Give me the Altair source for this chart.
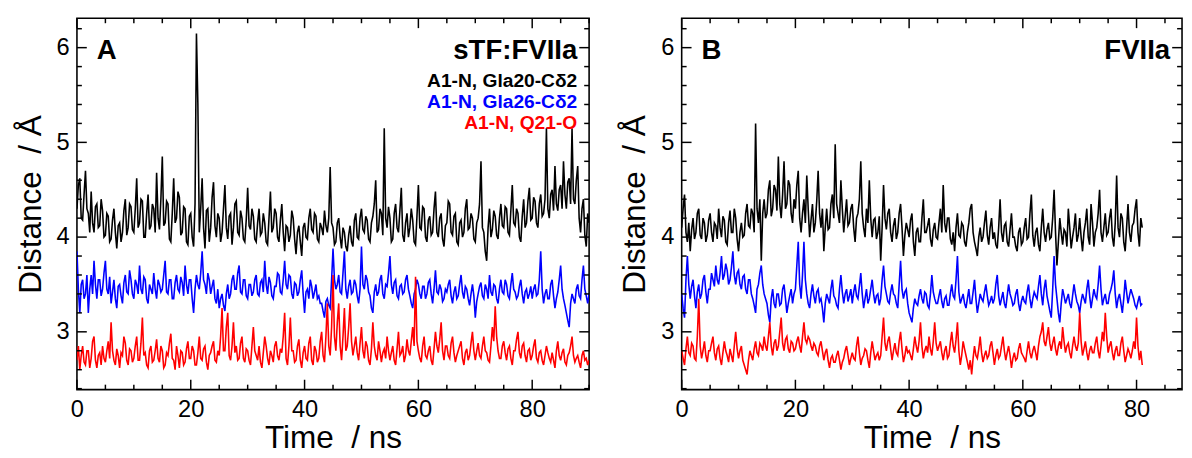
import pandas as pd
import altair as alt

STEP_NS = 0.25

# Panel A : sTF:FVIIa  (0 - 90 ns), one row = 5 ns
a_gla20 = [
    4.30, 4.55, 4.62, 4.20, 4.18, 4.45, 4.70, 4.30, 4.25, 4.05, 4.48, 4.15, 4.05, 4.32, 4.35, 4.10, 4.12, 4.40, 4.28, 4.00,
    4.02, 4.25, 4.22, 3.95, 3.98, 4.18, 4.30, 4.05, 3.88, 4.12, 4.15, 3.95, 4.05, 4.28, 4.40, 4.02, 4.10, 4.35, 4.32, 4.08,
    4.05, 4.30, 4.62, 4.10, 4.15, 4.40, 4.38, 4.00, 4.00, 4.25, 4.45, 4.08, 4.12, 4.35, 4.30, 4.05, 4.68, 4.20, 4.08, 4.40,
    4.85, 4.12, 4.15, 4.38, 4.35, 3.98, 3.95, 4.25, 4.62, 4.15, 4.20, 4.48, 4.42, 4.02, 4.05, 4.32, 4.30, 3.95, 3.92, 4.22,
    4.25, 4.00, 3.90, 4.35, 6.15, 5.40, 4.05, 4.30, 4.62, 4.10, 3.88, 4.28, 4.30, 3.95, 4.10, 4.42, 4.58, 4.12, 4.00, 4.25,
    4.20, 3.95, 4.05, 4.30, 4.55, 4.10, 3.98, 4.22, 4.25, 3.92, 4.10, 4.35, 4.38, 4.05, 4.02, 4.28, 4.20, 3.98, 3.95, 4.18,
    4.52, 4.12, 4.08, 4.30, 4.22, 3.98, 3.95, 4.15, 4.30, 4.02, 4.05, 4.25, 4.15, 3.95, 3.92, 4.20, 4.48, 4.05, 4.10, 4.30,
    4.25, 4.00, 3.95, 4.18, 4.35, 4.05, 3.85, 4.12, 4.10, 3.95, 4.02, 4.28, 4.20, 3.98, 3.82, 4.05, 4.12, 3.95, 3.80, 4.10,
    4.15, 4.00, 3.98, 4.20, 4.30, 4.08, 4.05, 4.25, 4.22, 3.98, 3.95, 4.15, 4.10, 4.02, 4.28, 4.12, 4.05, 4.20, 4.74, 4.15,
    4.10, 3.92, 3.95, 4.15, 4.20, 4.00, 3.88, 4.10, 4.05, 3.90, 3.85, 4.02, 4.12, 3.95, 3.90, 4.18, 4.25, 4.00, 3.98, 4.20,
    4.30, 4.08, 4.05, 4.22, 4.18, 3.98, 3.95, 4.15, 4.22, 4.35, 4.60, 4.05, 4.08, 4.30, 4.25, 4.02, 5.15, 4.20, 4.10, 4.32,
    4.20, 3.95, 3.98, 4.25, 4.35, 4.10, 4.05, 4.28, 4.52, 4.02, 3.95, 4.15, 4.25, 4.00, 4.10, 4.30, 4.18, 3.95, 3.92, 4.22,
    4.55, 4.10, 4.08, 4.32, 4.30, 4.00, 3.95, 4.18, 4.22, 4.02, 4.05, 4.30, 4.48, 4.05, 4.00, 4.20, 4.25, 3.98, 3.90, 4.12,
    4.15, 4.38, 4.35, 4.05, 4.02, 4.22, 4.25, 3.95, 3.92, 4.15, 4.18, 4.00, 4.05, 4.30, 4.40, 4.08, 4.10, 4.25, 4.20, 3.98,
    3.95, 4.15, 4.20, 4.35, 4.80, 4.10, 4.05, 3.85, 3.75, 4.10, 4.30, 4.00, 4.08, 4.28, 4.22, 4.02, 3.98, 4.20, 4.35, 4.12,
    4.10, 4.32, 4.30, 4.05, 4.02, 4.28, 4.55, 4.15, 4.12, 4.30, 4.25, 4.00, 3.95, 4.22, 4.40, 4.10, 4.15, 4.38, 4.52, 4.18,
    4.20, 4.42, 4.38, 4.15, 4.10, 4.35, 4.45, 4.22, 4.25, 4.40, 5.15, 4.30, 4.20, 4.45, 4.50, 4.28, 4.75, 4.35, 4.28, 4.50,
    4.55, 4.30, 4.80, 4.45, 4.30, 4.58, 4.62, 4.35, 5.15, 4.40, 4.35, 4.60, 4.75, 4.20, 4.05, 4.30, 4.40, 4.02, 3.90, 4.25,
    4.15,
]
a_gla26 = [
    3.85, 3.45, 3.20, 3.50, 3.55, 3.35, 3.40, 3.60, 3.20, 3.45, 3.60, 3.40, 3.75, 3.50, 3.35, 3.55, 3.55, 3.38, 3.45, 3.62,
    3.75, 3.45, 3.40, 3.58, 3.30, 3.42, 3.55, 3.35, 3.25, 3.48, 3.50, 3.38, 3.30, 3.52, 3.60, 3.42, 3.40, 3.65, 3.55, 3.40,
    3.35, 3.55, 3.50, 3.40, 3.70, 3.45, 3.40, 3.58, 3.55, 3.35, 3.30, 3.50, 3.45, 3.40, 3.62, 3.45, 3.35, 3.55, 3.50, 3.42,
    3.45, 3.60, 3.75, 3.42, 3.40, 3.55, 3.55, 3.35, 3.35, 3.52, 3.60, 3.45, 3.42, 3.58, 3.52, 3.38, 3.70, 3.50, 3.40, 3.55,
    3.55, 3.35, 3.20, 3.45, 3.60, 3.50, 3.45, 3.62, 3.85, 3.55, 3.50, 3.40, 3.62, 3.55, 3.40, 3.48, 3.55, 3.35, 3.30, 3.45,
    3.25, 3.35, 3.40, 3.28, 3.22, 3.40, 3.50, 3.35, 3.40, 3.55, 3.60, 3.45, 3.45, 3.62, 3.70, 3.42, 3.40, 3.55, 3.55, 3.38,
    3.35, 3.50, 3.50, 3.38, 3.42, 3.55, 3.60, 3.40, 3.38, 3.52, 3.55, 3.42, 3.75, 3.50, 3.40, 3.58, 3.52, 3.38, 3.35, 3.48,
    3.48, 3.62, 3.60, 3.42, 3.40, 3.55, 3.75, 3.50, 3.45, 3.60, 3.58, 3.40, 3.35, 3.52, 3.50, 3.38, 3.42, 3.55, 3.65, 3.40,
    3.20, 3.42, 3.45, 3.35, 3.55, 3.48, 3.35, 3.42, 3.50, 3.35, 3.38, 3.30, 3.30, 3.22, 3.15, 3.32, 3.35, 3.28, 3.25, 3.55,
    3.88, 3.55, 3.45, 3.50, 3.60, 3.42, 3.40, 3.62, 3.85, 3.45, 3.35, 3.48, 3.55, 3.40, 3.42, 3.55, 3.50, 3.38, 3.30, 3.45,
    3.90, 3.50, 3.45, 3.60, 3.55, 3.42, 3.38, 3.25, 3.20, 3.42, 3.50, 3.38, 3.42, 3.55, 3.60, 3.40, 3.35, 3.50, 3.48, 3.62,
    3.80, 3.50, 3.40, 3.52, 3.55, 3.38, 3.35, 3.48, 3.50, 3.40, 3.42, 3.55, 3.60, 3.45, 3.38, 3.30, 3.25, 3.40, 3.45, 3.55,
    3.50, 3.40, 3.35, 3.48, 3.48, 3.35, 3.40, 3.52, 3.55, 3.40, 3.30, 3.45, 3.65, 3.42, 3.40, 3.50, 3.45, 3.32, 3.35, 3.45,
    3.42, 3.50, 3.55, 3.38, 3.30, 3.42, 3.48, 3.35, 3.38, 3.50, 3.60, 3.42, 3.35, 3.48, 3.45, 3.35, 3.28, 3.40, 3.50, 3.38,
    3.15, 3.32, 3.40, 3.48, 3.52, 3.38, 3.35, 3.50, 3.45, 3.35, 3.60, 3.42, 3.38, 3.50, 3.48, 3.35, 3.30, 3.45, 3.55, 3.42,
    3.40, 3.55, 3.50, 3.38, 3.35, 3.50, 3.62, 3.45, 3.42, 3.35, 3.38, 3.48, 3.55, 3.40, 3.30, 3.42, 3.45, 3.35, 3.40, 3.48,
    3.35, 3.45, 3.50, 3.38, 3.40, 3.55, 3.85, 3.45, 3.30, 3.40, 3.45, 3.35, 3.35, 3.50, 3.55, 3.38, 3.25, 3.35, 3.42, 3.55,
    3.70, 3.45, 3.35, 3.28, 3.20, 3.12, 3.05, 3.30, 3.40, 3.35, 3.30, 3.45, 3.50, 3.38, 3.35, 3.55, 3.70, 3.45, 3.38, 3.30,
    3.40,
]
a_q21 = [
    2.70, 2.85, 2.60, 2.75, 2.85, 2.68, 2.65, 2.80, 2.80, 2.62, 2.72, 2.90, 2.95, 2.70, 2.62, 2.75, 2.78, 2.65, 2.85, 2.72,
    2.68, 2.80, 2.90, 2.72, 3.10, 2.80, 2.70, 2.65, 2.82, 2.75, 2.62, 2.78, 2.75, 2.95, 2.88, 2.70, 2.65, 2.82, 2.80, 2.68,
    2.72, 2.85, 2.95, 2.70, 2.70, 2.88, 3.15, 2.75, 2.78, 2.65, 2.62, 2.80, 2.85, 2.68, 2.70, 2.80, 2.92, 2.72, 2.68, 2.85,
    2.80, 2.62, 2.65, 2.78, 2.75, 2.88, 2.98, 2.72, 2.70, 2.60, 2.85, 2.75, 2.62, 2.80, 2.78, 2.65, 2.68, 2.82, 2.90, 2.72,
    2.72, 2.85, 2.80, 2.65, 2.65, 2.78, 2.95, 2.72, 2.70, 2.82, 2.85, 2.68, 2.60, 2.75, 2.78, 2.85, 2.90, 2.70, 2.68, 2.80,
    2.75, 2.95, 3.25, 2.80, 2.80, 3.05, 3.20, 2.75, 2.70, 2.85, 3.10, 2.78, 2.85, 2.70, 2.72, 2.88, 2.95, 2.72, 2.68, 2.82,
    2.80, 2.70, 2.65, 2.85, 3.05, 2.80, 2.75, 2.70, 2.85, 2.68, 2.62, 2.78, 2.95, 2.85, 2.72, 2.65, 2.80, 2.75, 2.68, 2.85,
    2.90, 2.75, 2.70, 2.82, 2.78, 2.95, 3.20, 2.72, 2.65, 2.85, 3.15, 2.80, 2.80, 2.68, 2.70, 2.85, 2.92, 2.70, 2.62, 2.78,
    2.85, 2.72, 2.70, 2.88, 2.95, 2.70, 2.65, 2.85, 2.80, 2.68, 2.72, 2.90, 3.00, 2.75, 2.68, 2.95, 3.30, 2.85, 2.75, 3.05,
    3.60, 2.95, 2.80, 3.10, 3.30, 2.85, 2.70, 2.95, 3.25, 2.80, 2.85, 3.05, 3.30, 2.90, 2.75, 2.85, 2.95, 2.78, 2.70, 2.88,
    3.05, 2.80, 2.72, 2.90, 2.85, 2.70, 2.65, 2.82, 3.10, 2.85, 2.75, 2.70, 2.90, 2.80, 2.68, 2.78, 2.82, 2.72, 2.95, 2.80,
    2.70, 2.78, 2.85, 2.70, 2.65, 2.82, 3.00, 2.75, 2.78, 2.85, 2.68, 2.75, 2.92, 2.80, 2.75, 2.90, 3.05, 2.85, 3.58, 2.90,
    2.80, 2.72, 2.68, 2.85, 2.95, 2.75, 2.72, 2.80, 2.85, 2.70, 2.65, 2.82, 3.00, 2.85, 2.78, 2.92, 3.10, 2.80, 2.70, 2.85,
    2.85, 2.75, 2.72, 2.88, 2.95, 2.78, 2.68, 2.75, 2.80, 2.85, 2.90, 2.72, 2.65, 2.78, 2.82, 2.70, 2.75, 2.88, 3.00, 2.80,
    2.70, 2.80, 2.88, 2.75, 2.72, 2.85, 2.95, 2.80, 2.78, 2.70, 2.68, 2.85, 3.05, 2.90, 3.27, 2.95, 2.80, 2.72, 2.72, 2.85,
    2.90, 2.78, 2.70, 2.82, 2.85, 2.72, 2.65, 2.80, 2.80, 2.92, 3.00, 2.78, 2.72, 2.85, 2.88, 2.75, 2.68, 2.80, 2.82, 2.70,
    2.75, 2.85, 2.92, 2.72, 2.68, 2.78, 2.80, 2.70, 2.65, 2.75, 2.85, 2.78, 2.72, 2.68, 2.78, 2.70, 2.62, 2.80, 2.90, 2.75,
    2.70, 2.78, 2.82, 2.68, 2.65, 2.75, 2.78, 2.85, 2.95, 2.75, 2.68, 2.72, 2.75, 2.68, 2.62, 2.75, 2.80, 2.70, 2.72, 2.65,
    2.70,
]

# Panel B : FVIIa  (0 - 81 ns), one row = 5 ns
b_gla20 = [
    4.10, 4.30, 4.45, 4.05, 3.95, 4.15, 3.85, 4.08, 4.20, 3.98, 4.05, 4.25, 4.30, 4.02, 3.98, 4.20, 4.15, 3.95, 4.02, 4.18,
    4.25, 4.05, 3.95, 4.15, 4.12, 3.98, 4.30, 4.10, 4.00, 4.22, 4.18, 3.95, 3.92, 4.15, 4.28, 4.05, 4.05, 4.30, 4.20, 3.98,
    3.85, 4.05, 4.15, 4.00, 4.02, 4.25, 4.35, 4.12, 4.10, 4.30, 4.25, 4.05, 5.20, 4.30, 4.15, 4.40, 3.75, 4.25, 4.40, 4.20,
    4.25, 4.50, 4.60, 4.22, 4.30, 4.55, 4.50, 4.28, 4.85, 4.35, 4.20, 4.45, 4.80, 4.30, 4.35, 4.60, 4.55, 4.25, 4.15, 4.40,
    4.30, 4.55, 4.70, 4.20, 4.05, 4.25, 4.40, 4.15, 4.65, 4.30, 4.00, 4.18, 4.35, 4.05, 4.15, 4.38, 4.70, 4.25, 4.10, 4.30,
    3.85, 4.10, 4.30, 4.08, 4.10, 4.35, 4.45, 4.20, 4.98, 4.35, 4.25, 4.15, 4.60, 4.30, 4.05, 4.22, 4.40, 4.12, 4.15, 4.30,
    4.35, 4.10, 3.95, 4.20, 4.25, 4.40, 4.80, 4.25, 4.10, 4.00, 4.30, 4.15, 4.60, 4.20, 4.00, 4.18, 4.20, 3.98, 4.05, 4.22,
    3.75, 4.10, 4.55, 4.20, 4.08, 4.25, 4.30, 4.05, 3.95, 4.12, 4.20, 3.98, 4.05, 4.25, 4.35, 4.10, 3.80, 4.02, 4.15, 4.08,
    4.00, 4.18, 4.25, 3.95, 3.80, 4.05, 4.10, 3.95, 3.95, 4.20, 4.40, 4.05, 4.05, 4.12, 4.20, 3.98, 3.90, 4.08, 4.15, 4.00,
    3.98, 4.15, 4.30, 4.05, 4.55, 4.15, 4.05, 4.20, 4.20, 3.98, 3.92, 4.05, 3.85, 4.10, 4.25, 4.02, 4.00, 4.15, 4.12, 3.95,
    3.90, 4.05, 4.15, 4.30, 4.35, 4.05, 3.95, 3.88, 3.80, 4.00, 4.10, 3.95, 4.00, 4.15, 4.28, 4.02, 3.92, 4.10, 4.20, 3.98,
    4.05, 3.92, 3.88, 4.10, 4.40, 4.05, 3.95, 4.12, 4.15, 3.95, 3.90, 4.08, 4.25, 4.00, 4.00, 3.90, 3.85, 4.05, 4.10, 3.92,
    3.95, 4.10, 4.20, 3.98, 4.00, 4.25, 4.45, 4.02, 3.90, 4.05, 4.10, 3.92, 3.85, 4.10, 4.30, 4.05, 3.95, 4.08, 4.15, 3.98,
    4.00, 4.20, 4.50, 4.05, 3.70, 3.95, 4.20, 4.05, 3.92, 4.08, 4.05, 3.90, 4.30, 4.10, 3.88, 4.00, 4.10, 4.25, 3.95, 4.02,
    4.20, 4.00, 3.85, 4.05, 4.15, 4.30, 4.00, 3.92, 4.35, 4.15, 3.90, 4.05, 4.10, 4.25, 4.50, 4.05, 3.95, 4.10, 4.25, 4.02,
    4.05, 4.20, 4.30, 4.00, 3.90, 4.15, 4.65, 4.10, 4.00, 4.25, 4.20, 3.95, 3.85, 4.10, 4.35, 4.05, 3.95, 4.12, 4.15, 4.30,
    4.40, 4.05, 3.90, 4.20, 4.10,
]
b_gla26 = [
    3.40, 3.25, 3.15, 3.55, 3.80, 3.50, 3.35, 3.48, 3.55, 3.38, 3.25, 3.42, 3.50, 3.35, 3.40, 3.55, 3.60, 3.42, 3.30, 3.45,
    3.45, 3.62, 3.55, 3.48, 3.70, 3.55, 3.50, 3.62, 3.80, 3.55, 3.60, 3.72, 3.65, 3.50, 3.55, 3.68, 3.85, 3.60, 3.50, 3.62,
    3.65, 3.50, 3.45, 3.58, 3.60, 3.45, 3.40, 3.55, 3.55, 3.40, 3.35, 3.28, 3.20, 3.45, 3.50, 3.62, 3.70, 3.50, 3.40, 3.35,
    3.30, 3.18, 3.10, 3.35, 3.45, 3.30, 3.25, 3.40, 3.40, 3.28, 3.30, 3.45, 3.50, 3.35, 3.20, 3.30, 3.38, 3.45, 3.30, 3.40,
    3.45, 3.70, 3.95, 3.50, 3.35, 3.60, 3.95, 3.55, 3.40, 3.30, 3.25, 3.40, 3.50, 3.38, 3.30, 3.42, 3.45, 3.32, 3.35, 3.25,
    3.10, 3.30, 3.40, 3.35, 3.30, 3.45, 3.55, 3.38, 3.35, 3.28, 3.25, 3.45, 3.60, 3.42, 3.30, 3.40, 3.45, 3.32, 3.38, 3.45,
    3.30, 3.42, 3.50, 3.38, 3.35, 3.48, 3.62, 3.40, 3.25, 3.35, 3.45, 3.30, 3.35, 3.45, 3.55, 3.40, 3.30, 3.38, 3.40, 3.28,
    3.35, 3.55, 3.70, 3.48, 3.40, 3.32, 3.30, 3.42, 3.50, 3.40, 3.38, 3.30, 3.25, 3.50, 3.75, 3.45, 3.35, 3.42, 3.45, 3.30,
    3.20, 3.15, 3.10, 3.25, 3.35, 3.30, 3.28, 3.38, 3.45, 3.35, 3.30, 3.42, 3.40, 3.28, 3.25, 3.40, 3.60, 3.42, 3.35, 3.30,
    3.30, 3.38, 3.45, 3.32, 3.25, 3.35, 3.38, 3.28, 3.28, 3.40, 3.50, 3.38, 3.35, 3.55, 3.80, 3.42, 3.30, 3.35, 3.40, 3.30,
    3.25, 3.35, 3.45, 3.30, 3.30, 3.42, 3.55, 3.35, 3.20, 3.30, 3.40, 3.35, 3.32, 3.42, 3.50, 3.38, 3.28, 3.32, 3.38, 3.30,
    3.35, 3.50, 3.60, 3.38, 3.28, 3.35, 3.42, 3.30, 3.25, 3.38, 3.50, 3.40, 3.35, 3.28, 3.30, 3.40, 3.45, 3.30, 3.22, 3.32,
    3.38, 3.32, 3.30, 3.42, 3.50, 3.35, 3.25, 3.35, 3.42, 3.38, 3.35, 3.48, 3.60, 3.40, 3.28, 3.45, 3.55, 3.38, 3.30, 3.22,
    3.15, 3.45, 3.80, 3.50, 3.35, 3.20, 3.10, 3.30, 3.45, 3.38, 3.30, 3.35, 3.40, 3.30, 3.25, 3.38, 3.50, 3.40, 3.32, 3.28,
    3.20, 3.32, 3.40, 3.35, 3.30, 3.45, 3.55, 3.38, 3.25, 3.35, 3.45, 3.38, 3.35, 3.50, 3.70, 3.45, 3.28, 3.35, 3.40, 3.30,
    3.30, 3.40, 3.45, 3.52, 3.65, 3.40, 3.25, 3.35, 3.40, 3.30, 3.20, 3.35, 3.55, 3.42, 3.30, 3.38, 3.45, 3.40, 3.35, 3.28,
    3.25, 3.32, 3.38, 3.28, 3.30,
]
b_q21 = [
    2.80, 2.72, 2.65, 2.82, 2.95, 2.78, 2.75, 2.88, 2.85, 2.72, 2.70, 2.95, 3.35, 2.85, 2.72, 2.80, 2.90, 2.75, 2.68, 2.80,
    2.80, 2.88, 2.95, 2.78, 2.70, 2.82, 2.85, 2.72, 2.65, 2.78, 2.90, 2.80, 2.75, 2.68, 2.82, 2.75, 2.68, 2.85, 3.00, 2.82,
    2.72, 2.80, 2.85, 2.70, 2.65, 2.60, 2.55, 2.70, 2.80, 2.75, 2.70, 2.82, 2.90, 2.78, 2.75, 2.88, 2.85, 2.80, 2.95, 2.85,
    2.80, 2.95, 3.10, 2.85, 2.75, 2.88, 2.92, 2.80, 2.85, 3.00, 3.15, 2.88, 2.80, 2.92, 2.95, 2.82, 2.78, 2.90, 2.88, 2.80,
    2.82, 2.90, 2.95, 2.85, 2.78, 2.95, 3.10, 2.92, 2.88, 2.95, 2.92, 2.85, 2.80, 2.88, 2.85, 2.78, 2.75, 2.85, 2.90, 2.80,
    2.70, 2.78, 2.82, 2.70, 2.62, 2.72, 2.75, 2.68, 2.68, 2.75, 2.80, 2.70, 2.60, 2.68, 2.72, 2.80, 2.85, 2.75, 2.65, 2.72,
    2.78, 2.72, 2.70, 2.85, 2.95, 2.78, 2.65, 2.72, 2.75, 2.82, 2.80, 2.70, 2.62, 2.78, 2.90, 2.80, 2.70, 2.75, 2.78, 2.70,
    2.75, 2.95, 3.15, 2.88, 2.80, 2.90, 2.95, 2.82, 2.70, 2.80, 2.88, 2.78, 2.75, 2.90, 3.00, 2.82, 2.68, 2.75, 2.85, 2.78,
    2.80, 2.75, 2.70, 2.82, 2.95, 2.85, 2.78, 2.90, 3.10, 2.85, 2.72, 2.80, 2.85, 2.78, 2.95, 2.82, 2.75, 2.90, 3.10, 2.88,
    2.80, 2.85, 2.90, 2.78, 2.70, 2.80, 2.85, 2.72, 2.75, 2.88, 3.00, 2.85, 2.78, 2.92, 3.10, 2.80, 2.65, 2.75, 2.90, 2.82,
    2.75, 2.68, 2.60, 2.70, 2.55, 2.72, 2.85, 2.75, 2.72, 2.82, 2.95, 2.78, 2.68, 2.75, 2.80, 2.72, 2.75, 2.85, 2.90, 2.78,
    2.65, 2.75, 2.82, 2.72, 2.75, 2.85, 2.95, 2.80, 2.70, 2.78, 2.85, 2.75, 2.62, 2.72, 2.78, 2.70, 2.72, 2.82, 2.88, 2.78,
    2.75, 2.72, 2.68, 2.80, 2.90, 2.78, 2.72, 2.80, 2.85, 2.78, 2.70, 2.85, 2.95, 3.00, 3.10, 2.90, 2.85, 2.95, 3.05, 2.88,
    2.80, 2.88, 2.95, 2.82, 2.75, 2.85, 2.90, 2.82, 3.05, 2.90, 2.78, 2.85, 2.88, 2.78, 2.72, 2.85, 2.95, 2.85, 2.80, 2.88,
    3.20, 2.90, 2.75, 2.82, 2.90, 2.78, 2.70, 2.80, 2.85, 2.78, 2.78, 2.88, 2.95, 2.80, 2.72, 2.85, 3.00, 2.90, 3.20, 2.95,
    2.78, 2.85, 2.90, 2.78, 2.70, 2.80, 2.85, 2.75, 2.75, 2.88, 2.95, 2.80, 2.68, 2.75, 2.82, 2.78, 2.72, 2.80, 2.90, 2.82,
    3.15, 2.85, 2.70, 2.80, 2.65,
]

series_labels = ["A1-N, Gla20-C\u03b42", "A1-N, Gla26-C\u03b42", "A1-N, Q21-O"]
series_colors = ["#000000", "#0000ff", "#ff0000"]
x_tick_values = [0, 20, 40, 60, 80]
y_tick_values = [3, 4, 5, 6]
x_minor = [v for v in range(0, 91, 5) if v % 20 != 0]
y_minor = [round(2.4 + 0.2 * i, 1) for i in range(20) if (i - 3) % 5 != 0]

# ---------------- layout ----------------
FONT = "Liberation Sans"
H = 377
YDOM = [2.39, 6.31]


def panel(gla20, gla26, q21, letter, tag, show_legend, W, xmax):
    xs = alt.Scale(domain=[0, xmax], nice=False, zero=False)
    ys = alt.Scale(domain=YDOM, nice=False, zero=False)
    xaxis = alt.Axis(values=x_tick_values, title="Time\u00a0 / ns", grid=False,
                     domain=False, ticks=False, labelFlush=False,
                     labelFont=FONT, labelFontSize=24, labelPadding=8,
                     titleFont=FONT, titleFontSize=32, titleFontWeight="normal",
                     titlePadding=2, labelColor="black", titleColor="black")
    yaxis = alt.Axis(values=y_tick_values, format="d", title="Distance\u00a0 / \u00c5",
                     grid=False, domain=False, ticks=False,
                     labelFont=FONT, labelFontSize=24, labelPadding=8,
                     titleFont=FONT, titleFontSize=32, titleFontWeight="normal",
                     titlePadding=9, labelColor="black", titleColor="black")
    layers = []
    for vals, col in zip([gla20, gla26, q21], series_colors):
        df = pd.DataFrame({"t": [k * STEP_NS for k in range(len(vals))], "d": vals})
        layers.append(
            alt.Chart(df).mark_line(color=col, strokeWidth=1.6, clip=True).encode(
                x=alt.X("t:Q", scale=xs, axis=xaxis),
                y=alt.Y("d:Q", scale=ys, axis=yaxis),
            )
        )

    xm = [v for v in x_minor if v <= xmax]

    # inward ticks on all four sides
    def xr(vals, length, top):
        y0, y1 = (0, length) if top else (H, H - length)
        return alt.Chart(pd.DataFrame({"t": vals})).mark_rule(color="black", strokeWidth=1.5).encode(
            x=alt.X("t:Q", scale=xs, axis=xaxis), y=alt.value(y0), y2=alt.value(y1))

    def yr(vals, length, right):
        x0, x1 = (W, W - length) if right else (0, length)
        return alt.Chart(pd.DataFrame({"d": vals})).mark_rule(color="black", strokeWidth=1.5).encode(
            y=alt.Y("d:Q", scale=ys, axis=yaxis), x=alt.value(x0), x2=alt.value(x1))

    for top in (False, True):
        layers.append(xr(x_tick_values, 10, top))
        layers.append(xr(xm, 5, top))
    for right in (False, True):
        layers.append(yr(y_tick_values, 10, right))
        layers.append(yr(y_minor, 5, right))

    def txt(s, x, y, size, align, color="black"):
        return alt.Chart(pd.DataFrame({"s": [s]})).mark_text(
            font=FONT, fontSize=size, fontWeight="bold", align=align,
            baseline="middle", color=color).encode(
            text="s:N", x=alt.value(x), y=alt.value(y))

    layers.append(txt(letter, 20, 33, 28, "left"))
    layers.append(txt(tag, W - 12, 33, 28, "right"))
    if show_legend:
        for k, (lab, col) in enumerate(zip(series_labels, series_colors)):
            layers.append(txt(lab, W - 12, 64 + 21 * k, 19.5, "right", col))
    return alt.layer(*layers).properties(width=W, height=H)


pa = panel(a_gla20, a_gla26, a_q21, "A", "sTF:FVIIa", True, 520, 90)
pb = panel(b_gla20, b_gla26, b_q21, "B", "FVIIa", False, 508, 88)

chart = alt.hconcat(pa, pb, spacing=27).properties(
    padding={"left": 5, "top": 5, "right": 0, "bottom": 0}
).configure_view(stroke="black", strokeWidth=1.6)

chart.save("out.html", embed_options={"renderer": "svg", "actions": False})
